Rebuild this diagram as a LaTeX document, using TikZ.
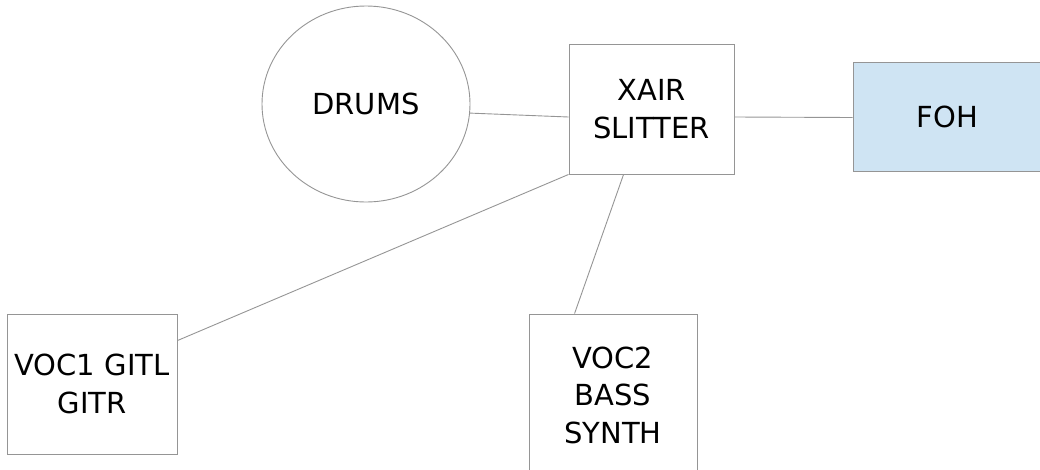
\documentclass[tikz,border=0pt]{standalone}
\usepackage{fontspec}
\setmainfont{DejaVu Sans}
\usetikzlibrary{shapes.geometric}
\definecolor{edgegray}{HTML}{959595}
\definecolor{fohblue}{HTML}{CFE4F3}
\tikzset{
  box/.style={draw=edgegray, line width=0.9pt, inner sep=0pt, align=center,
    font=\fontsize{29}{37.5}\selectfont},
  conn/.style={draw=edgegray, line width=0.9pt}
}
\begin{document}
\begin{tikzpicture}[x=1pt,y=-1pt]
\useasboundingbox (0,0) rectangle (1040,469);
\begin{scope}
\clip (0,0) rectangle (1040,469);
\node[box, ellipse, minimum width=208pt, minimum height=196pt] (drums) at (366,104) {DRUMS};
\node[box, rectangle, minimum width=165pt, minimum height=130pt] (xair) at (651.5,109) {XAIR\\SLITTER};
\node[box, rectangle, fill=fohblue, minimum width=189pt, minimum height=109pt] (foh) at (947.5,116.5) {FOH};
\node[box, rectangle, minimum width=170pt, minimum height=140pt] (voc1) at (92,384) {VOC1 GITL\\GITR};
\node[box, rectangle, minimum width=168pt, minimum height=162pt] (voc2) at (613,395) {VOC2\\BASS\\SYNTH};
\draw[conn] (drums.-5) -- ([yshift=-8pt]xair.west);
\draw[conn] ([yshift=-8pt]xair.east) -- ([yshift=-1pt]foh.west);
\draw[conn] (xair.south west) -- ([yshift=-27pt]voc1.north east);
\draw[conn] ([xshift=55pt]xair.south west) -- ([xshift=46pt]voc2.north west);
\end{scope}
\end{tikzpicture}
\end{document}
